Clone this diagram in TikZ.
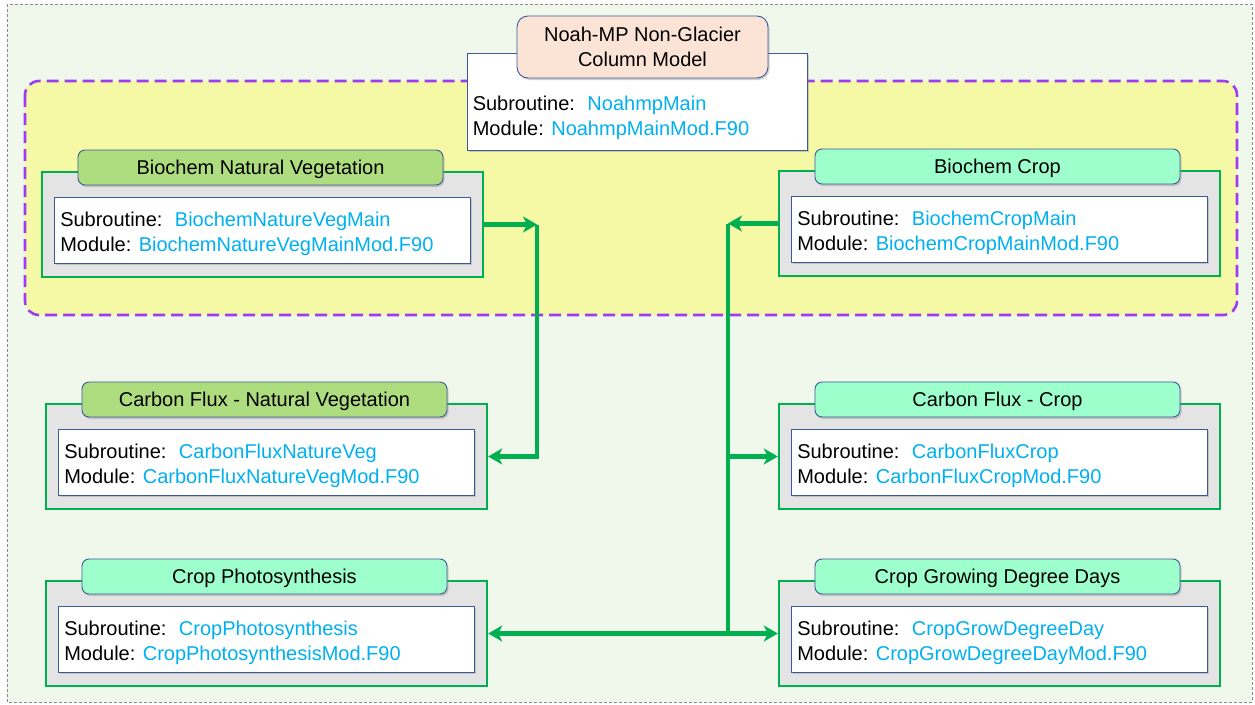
\documentclass[tikz,border=0pt]{standalone}
\usepackage{fontspec}
\setmainfont{Liberation Sans}
\usetikzlibrary{arrows.meta,shadows}

\definecolor{pagebg}{HTML}{F0F7EB}
\definecolor{pageedge}{HTML}{8A8A8A}
\definecolor{groupfill}{HTML}{F5F9A5}
\definecolor{groupedge}{HTML}{A03CF0}
\definecolor{linegreen}{HTML}{00B050}
\definecolor{boxgray}{HTML}{E4E4E4}
\definecolor{edgeblue}{HTML}{3D5A98}
\definecolor{codeblue}{HTML}{00B0F0}
\definecolor{vegfill}{HTML}{AEDD80}
\definecolor{cropfill}{HTML}{9CFFCC}
\definecolor{mainfill}{HTML}{FBE4D5}

\tikzset{
  every node/.style={font=\fontsize{20}{25}\selectfont},
  softshadow/.style={drop shadow={shadow xshift=1.5pt, shadow yshift=-2pt, opacity=0.35}},
  outerbox/.style={draw=linegreen, line width=2.4pt, fill=boxgray,
    minimum width=441pt, minimum height=105pt, inner sep=0pt},
  innerbox/.style={draw=edgeblue, line width=0.9pt, fill=white,
    minimum width=416pt, minimum height=66pt, inner sep=0pt, softshadow},
  headbase/.style={draw=edgeblue, line width=0.9pt, fill=#1, inner sep=0pt, softshadow},
  titlebox/.style={headbase=#1, rounded corners=7pt, minimum width=365pt,
    minimum height=35pt, text height=14.3pt, text depth=0pt},
  infotext/.style={anchor=west, align=left, inner sep=0pt},
  flow/.style={draw=linegreen, line width=4.4pt,
    -{Stealth[length=14pt,width=16pt,inset=4pt]}},
}

% one process block: name, centre x, top of green frame, header colour, title, subroutine, module
\newcommand{\procbox}[7]{%
  \node[outerbox] (#1) at (#2,#3+52.5) {};
  \node[innerbox] (#1-in) at (#2,#3+58) {};
  \node[titlebox=#4] (#1-hd) at (#2-2,#3-4.5) {#5};
  \node[infotext] (#1-tx) at ([xshift=6pt,yshift=-4pt]#1-in.west)
    {Subroutine:\hspace{0.62em}\textcolor{codeblue}{#6}\\Module: \textcolor{codeblue}{#7}};
}

\begin{document}
\begin{tikzpicture}[x=1pt,y=-1pt]
  \useasboundingbox (0,0) rectangle (1255,704);
  \fill[white] (0,0) rectangle (1255,704);
  \draw[fill=pagebg, draw=pageedge, line width=0.8pt, dash pattern=on 3pt off 2pt]
    (7,4) rectangle (1252,702);

  % biochemistry group
  \draw[fill=groupfill, draw=groupedge, line width=2.6pt, dash pattern=on 12pt off 6pt,
    rounded corners=14pt] (25,81) rectangle (1237,315);

  % top-level column model
  \node[draw=edgeblue, line width=0.9pt, fill=white, minimum width=340pt,
    minimum height=97pt, inner sep=0pt, softshadow] (main) at (637,101.5) {};
  \node[headbase=mainfill, rounded corners=11pt, minimum width=251pt,
    minimum height=62pt, align=center] (main-hd) at (642.5,47)
    {Noah-MP Non-Glacier\\Column Model};
  \node[infotext] (main-tx) at ([xshift=6pt,yshift=-16.5pt]main.west)
    {Subroutine:\hspace{0.62em}\textcolor{codeblue}{NoahmpMain}\\Module: \textcolor{codeblue}{NoahmpMainMod.F90}};

  % process blocks
  \procbox{bnv}{262.5}{172}{vegfill}{Biochem Natural Vegetation}{BiochemNatureVegMain}{BiochemNatureVegMainMod.F90}
  \procbox{bc}{999.5}{171}{cropfill}{Biochem Crop}{BiochemCropMain}{BiochemCropMainMod.F90}
  \procbox{cfnv}{266.5}{404}{vegfill}{Carbon Flux - Natural Vegetation}{CarbonFluxNatureVeg}{CarbonFluxNatureVegMod.F90}
  \procbox{cfc}{999.5}{404}{cropfill}{Carbon Flux - Crop}{CarbonFluxCrop}{CarbonFluxCropMod.F90}
  \procbox{cp}{266.5}{581}{cropfill}{Crop Photosynthesis}{CropPhotosynthesis}{CropPhotosynthesisMod.F90}
  \procbox{cgdd}{999.5}{581}{cropfill}{Crop Growing Degree Days}{CropGrowDegreeDay}{CropGrowDegreeDayMod.F90}

  % natural vegetation calls
  \coordinate (bnvjoin) at (537,224.5);
  \draw[flow] (bnv.east) -- (bnvjoin);
  \draw[flow] (bnvjoin) |- (cfnv.east);

  % crop calls
  \coordinate (bcjoin) at (728,223.5);
  \draw[flow] (bc.west) -- (bcjoin);
  \draw[flow] (bcjoin) |- (cgdd.west);
  \coordinate (cfcjoin) at (bcjoin |- cfc.west);
  \draw[flow] (cfcjoin) -- (cfc.west);
  \coordinate (cpjoin) at (bcjoin |- cp.east);
  \draw[flow] (cpjoin) -- (cp.east);
\end{tikzpicture}
\end{document}
